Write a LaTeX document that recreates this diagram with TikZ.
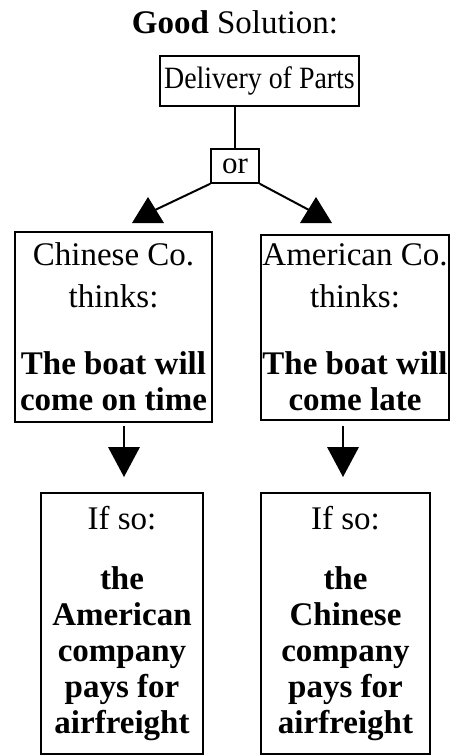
\documentclass[tikz,border=0pt]{standalone}
\usepackage{fontspec}
\setmainfont{Liberation Serif}
\begin{document}
\begin{tikzpicture}[x=1pt,y=-1pt,
  box/.style={draw, line width=1.6pt, inner sep=0pt, align=center, font=\fontsize{33}{36}\selectfont},
  conn/.style={line width=2pt},
  tipfill/.style={fill=black}]
\useasboundingbox (0,0) rectangle (451,755);
% title
\node[anchor=base, inner sep=0pt, font=\fontsize{33}{36}\selectfont] (title) at (235,33) {\textbf{Good} Solution:};
% top boxes
\node[box, minimum width=199pt, minimum height=50pt, font=\fontsize{31}{34}\selectfont] (del) at (259.5,81) {\scalebox{0.9}[1]{Delivery of Parts}};
\node[box, minimum width=48pt, minimum height=34pt, font=\fontsize{31}{34}\selectfont] (or) at (235,166) {or};
\draw[conn] (del.south -| or.north) -- (or.north);
% branch lines and triangles
\coordinate (tlA) at (148,197);
\coordinate (tlJ) at (155,210);
\coordinate (trA) at (316,197);
\coordinate (trJ) at (309,210);
\draw[conn] (or.south west) -- (tlJ);
\draw[conn] (or.south east) -- (trJ);
\fill[tipfill] (tlA) -- ++(-16,26) -- ++(32,0) -- cycle;
\fill[tipfill] (trA) -- ++(-16,26) -- ++(32,0) -- cycle;
% middle boxes
\node[box, minimum width=197pt, minimum height=190pt] (cn) at (113.5,327)
  {Chinese Co.\\[6pt] thinks:\\[31pt] \textbf{The boat will}\\ \textbf{come on time}};
\node[box, minimum width=188pt, minimum height=185pt] (am) at (355,327.5)
  {American Co.\\[6pt] thinks:\\[31pt] \textbf{The boat will}\\ \textbf{come late}};
% down arrows
\coordinate (dl) at (124,447);
\coordinate (dr) at (343,447);
\draw[conn] (cn.south -| dl) ++(0,3) -- (dl);
\draw[conn] (am.south -| dr) ++(0,5) -- (dr);
\fill[tipfill] (dl) ++(-16,0) -- ++(32,0) -- ++(-16,30) -- cycle;
\fill[tipfill] (dr) ++(-16,0) -- ++(32,0) -- ++(-16,30) -- cycle;
% bottom boxes
\node[box, minimum width=162pt, minimum height=261pt] (ifl) at (122,623.5)
  {If so:\\[24pt] \textbf{the}\\ \textbf{American}\\ \textbf{company}\\ \textbf{pays for}\\ \textbf{airfreight}};
\node[box, minimum width=169pt, minimum height=261pt] (ifr) at (345.5,623.5)
  {If so:\\[24pt] \textbf{the}\\ \textbf{Chinese}\\ \textbf{company}\\ \textbf{pays for}\\ \textbf{airfreight}};
\end{tikzpicture}
\end{document}
